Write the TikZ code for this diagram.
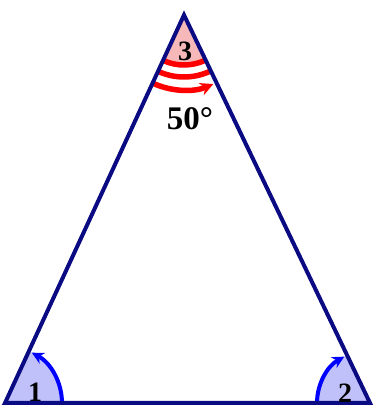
\documentclass[tikz,border=0pt]{standalone}
\usepackage{fontspec}
\setmainfont{Liberation Serif}
\usetikzlibrary{arrows.meta}
\definecolor{navy}{RGB}{10,10,130}
\definecolor{lblue}{RGB}{192,192,250}
\definecolor{lpink}{RGB}{246,184,184}
\tikzset{
  side/.style={draw=navy,line width=4pt,line join=miter},
  redarc/.style={draw=red,line width=5.5pt},
  bluearc/.style={draw=blue,line width=4pt},
  lbl/.style={font=\bfseries\fontsize{28}{28}\selectfont,inner sep=0pt},
}
\begin{document}
\begin{tikzpicture}[x=1pt,y=1pt]
\useasboundingbox (0,0) rectangle (374,410);
\coordinate (A) at (5,7);
\coordinate (B) at (370,7);
\coordinate (C) at (184,395);
% fills
\fill[lpink] (C) -- ++(245.2:50) arc[start angle=245.2,end angle=295.6,radius=50] -- cycle;
\fill[lblue] (A) -- ++(0:57) arc[start angle=0,end angle=65.2,radius=57] -- cycle;
\fill[lblue] (B) -- ++(180:53) arc[start angle=180,end angle=115.6,radius=53] -- cycle;
% top arcs
\draw[redarc] (C) ++(246:50) arc[start angle=246,end angle=294.8,radius=50];
\draw[redarc] (C) ++(246:62) arc[start angle=246,end angle=294.8,radius=62];
\draw[redarc,-{Stealth[length=13pt,width=13pt]}] (C) ++(246:75) arc[start angle=246,end angle=293,radius=75];
% base arcs
\draw[bluearc,-{Stealth[length=12pt,width=12pt]}] (A) ++(0:57) arc[start angle=0,end angle=62,radius=57];
\draw[bluearc,-{Stealth[length=12pt,width=12pt]}] (B) ++(180:53) arc[start angle=180,end angle=119,radius=53];
% triangle
\draw[side] (A) -- (B) -- (C) -- cycle;
% labels
\node[lbl] (l3) at (185,359) {3};
\node[lbl] (l1) at (35,18) {1};
\node[lbl] (l2) at (345,17) {2};
\node[lbl,font=\bfseries\fontsize{33}{33}\selectfont] (ang) at (190,291) {50°};
\end{tikzpicture}
\end{document}
